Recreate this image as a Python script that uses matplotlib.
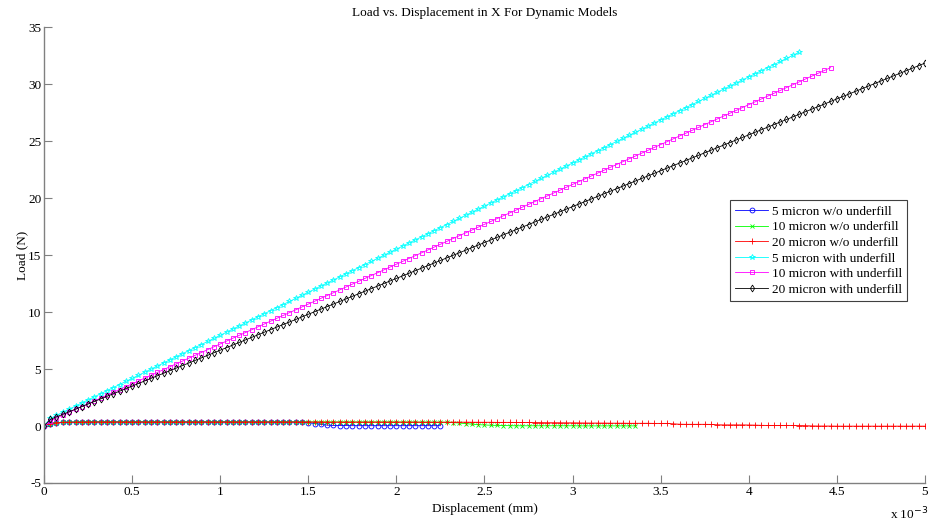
import matplotlib.pyplot as plt
import numpy as np

# displacement samples, in units of 1e-3 mm
disp = [0, .036, .071, .107, .143, .179, .214,
        .25, .286, .321, .357, .393, .429, .464,
        .5, .536, .571, .607, .643, .679, .714,
        .75, .786, .821, .857, .893, .929, .964,
        1, 1.036, 1.071, 1.107, 1.143, 1.179, 1.214,
        1.25, 1.286, 1.321, 1.357, 1.393, 1.429, 1.464,
        1.5, 1.536, 1.571, 1.607, 1.643, 1.679, 1.714,
        1.75, 1.786, 1.821, 1.857, 1.893, 1.929, 1.964,
        2, 2.036, 2.071, 2.107, 2.143, 2.179, 2.214,
        2.25, 2.286, 2.321, 2.357, 2.393, 2.429, 2.464,
        2.5, 2.536, 2.571, 2.607, 2.643, 2.679, 2.714,
        2.75, 2.786, 2.821, 2.857, 2.893, 2.929, 2.964,
        3, 3.036, 3.071, 3.107, 3.143, 3.179, 3.214,
        3.25, 3.286, 3.321, 3.357, 3.393, 3.429, 3.464,
        3.5, 3.536, 3.571, 3.607, 3.643, 3.679, 3.714,
        3.75, 3.786, 3.821, 3.857, 3.893, 3.929, 3.964,
        4, 4.036, 4.071, 4.107, 4.143, 4.179, 4.214,
        4.25, 4.286, 4.321, 4.357, 4.393, 4.429, 4.464,
        4.5, 4.536, 4.571, 4.607, 4.643, 4.679, 4.714,
        4.75, 4.786, 4.821, 4.857, 4.893, 4.929, 4.964,
        5]

load_5_wo = [0, 0.22, 0.30, 0.33, 0.34, 0.35, 0.35, 0.36, 0.36, 0.36,
             0.36, 0.36, 0.36, 0.36, 0.36, 0.36, 0.36, 0.36, 0.36, 0.36,
             0.36, 0.36, 0.36, 0.36, 0.36, 0.36, 0.36, 0.36, 0.36, 0.36,
             0.36, 0.36, 0.36, 0.36, 0.36, 0.35, 0.35, 0.35, 0.35, 0.35,
             0.35, 0.34, 0.30, 0.22, 0.14, 0.08, 0.05, 0.04, 0.04, 0.03,
             0.03, 0.03, 0.03, 0.03, 0.03, 0.03, 0.03, 0.03, 0.03, 0.03,
             0.03, 0.03, 0.03, 0.03]

load_10_wo = [0, 0.22, 0.30, 0.33, 0.34, 0.35, 0.35, 0.36, 0.36, 0.36,
              0.36, 0.36, 0.36, 0.36, 0.36, 0.36, 0.36, 0.36, 0.36, 0.36,
              0.36, 0.36, 0.36, 0.36, 0.36, 0.36, 0.36, 0.36, 0.36, 0.36,
              0.36, 0.36, 0.36, 0.36, 0.36, 0.36, 0.36, 0.36, 0.36, 0.36,
              0.36, 0.36, 0.35, 0.35, 0.35, 0.35, 0.35, 0.35, 0.35, 0.35,
              0.35, 0.35, 0.35, 0.35, 0.35, 0.35, 0.34, 0.34, 0.34, 0.34,
              0.34, 0.34, 0.33, 0.33, 0.32, 0.30, 0.26, 0.21, 0.16, 0.12,
              0.09, 0.07, 0.05, 0.04, 0.03, 0.02, 0.02, 0.02, 0.02, 0.02,
              0.02, 0.02, 0.02, 0.02, 0.02, 0.01, 0.01, 0.01, 0.01, 0.01,
              0.01, 0.01, 0.01, 0.01, 0.01]

load_20_wo = [0, 0.22, 0.30, 0.33, 0.34, 0.35, 0.35, 0.36, 0.36, 0.36,
              0.36, 0.36, 0.36, 0.36, 0.36, 0.36, 0.36, 0.36, 0.36, 0.36,
              0.36, 0.36, 0.36, 0.36, 0.36, 0.36, 0.36, 0.36, 0.36, 0.36,
              0.36, 0.36, 0.36, 0.36, 0.36, 0.36, 0.36, 0.36, 0.36, 0.36,
              0.36, 0.36, 0.36, 0.36, 0.36, 0.35, 0.35, 0.35, 0.35, 0.35,
              0.35, 0.35, 0.35, 0.35, 0.35, 0.35, 0.35, 0.35, 0.35, 0.35,
              0.34, 0.34, 0.34, 0.34, 0.34, 0.34, 0.34, 0.34, 0.33, 0.33,
              0.33, 0.33, 0.32, 0.32, 0.32, 0.31, 0.31, 0.31, 0.30, 0.30,
              0.29, 0.29, 0.28, 0.28, 0.28, 0.27, 0.27, 0.26, 0.26, 0.26,
              0.25, 0.25, 0.25, 0.24, 0.24, 0.24, 0.24, 0.23, 0.23, 0.23,
              0.20, 0.16, 0.15, 0.15, 0.15, 0.15, 0.14, 0.11, 0.10, 0.10,
              0.10, 0.10, 0.09, 0.08, 0.06, 0.05, 0.05, 0.05, 0.05, 0.05,
              0.04, 0.03, 0.01, 0.00, 0.00, 0.00, -0.01, -0.01, -0.01, -0.01,
              -0.01, -0.01, -0.01, -0.01, -0.01, -0.01, -0.01, -0.01, -0.01, -0.01,
              -0.01]

load_5_with = [0, 0.67, 0.94, 1.21, 1.48, 1.75, 2.02, 2.29, 2.56, 2.83,
               3.10, 3.37, 3.64, 3.91, 4.18, 4.45, 4.72, 4.99, 5.26, 5.53,
               5.80, 6.07, 6.34, 6.61, 6.88, 7.15, 7.42, 7.69, 7.96, 8.23,
               8.50, 8.77, 9.04, 9.31, 9.58, 9.85, 10.12, 10.39, 10.66, 10.93,
               11.20, 11.47, 11.74, 12.01, 12.28, 12.55, 12.82, 13.09, 13.36, 13.63,
               13.90, 14.17, 14.44, 14.71, 14.98, 15.25, 15.52, 15.79, 16.06, 16.33,
               16.60, 16.87, 17.14, 17.41, 17.68, 17.95, 18.22, 18.49, 18.76, 19.03,
               19.30, 19.57, 19.84, 20.11, 20.38, 20.65, 20.92, 21.19, 21.46, 21.73,
               22.00, 22.27, 22.54, 22.81, 23.08, 23.35, 23.62, 23.89, 24.16, 24.43,
               24.70, 24.97, 25.24, 25.51, 25.78, 26.05, 26.32, 26.59, 26.86, 27.13,
               27.40, 27.67, 27.94, 28.21, 28.48, 28.75, 29.02, 29.29, 29.56, 29.83,
               30.10, 30.37, 30.64, 30.91, 31.18, 31.45, 31.72, 31.99, 32.26, 32.53,
               32.80]

load_10_with = [0, 0.45, 0.70, 0.95, 1.20, 1.45, 1.70, 1.95, 2.20, 2.45,
                2.70, 2.95, 3.20, 3.45, 3.70, 3.95, 4.20, 4.45, 4.70, 4.95,
                5.20, 5.45, 5.70, 5.95, 6.20, 6.45, 6.70, 6.95, 7.20, 7.45,
                7.70, 7.95, 8.20, 8.45, 8.70, 8.95, 9.20, 9.45, 9.70, 9.95,
                10.20, 10.45, 10.70, 10.95, 11.20, 11.45, 11.70, 11.95, 12.20, 12.45,
                12.70, 12.95, 13.20, 13.45, 13.70, 13.95, 14.20, 14.45, 14.70, 14.95,
                15.20, 15.45, 15.70, 15.95, 16.20, 16.45, 16.70, 16.95, 17.20, 17.45,
                17.70, 17.95, 18.20, 18.45, 18.70, 18.95, 19.20, 19.45, 19.70, 19.95,
                20.20, 20.45, 20.70, 20.95, 21.20, 21.45, 21.70, 21.95, 22.20, 22.45,
                22.70, 22.95, 23.20, 23.45, 23.70, 23.95, 24.20, 24.45, 24.70, 24.95,
                25.20, 25.45, 25.70, 25.95, 26.20, 26.45, 26.70, 26.95, 27.20, 27.45,
                27.70, 27.95, 28.20, 28.45, 28.70, 28.95, 29.20, 29.45, 29.70, 29.95,
                30.20, 30.45, 30.70, 30.95, 31.20, 31.45]

load_20_with = [0, 0.58, 0.80, 1.03, 1.25, 1.48, 1.70, 1.93, 2.15, 2.38,
                2.60, 2.83, 3.05, 3.28, 3.50, 3.73, 3.95, 4.18, 4.40, 4.63,
                4.85, 5.08, 5.30, 5.53, 5.75, 5.98, 6.20, 6.43, 6.65, 6.88,
                7.10, 7.33, 7.55, 7.78, 8.00, 8.23, 8.45, 8.68, 8.90, 9.13,
                9.35, 9.58, 9.80, 10.03, 10.25, 10.48, 10.70, 10.93, 11.15, 11.38,
                11.60, 11.83, 12.05, 12.28, 12.50, 12.73, 12.95, 13.18, 13.40, 13.63,
                13.85, 14.08, 14.30, 14.53, 14.75, 14.98, 15.20, 15.43, 15.65, 15.88,
                16.10, 16.33, 16.55, 16.78, 17.00, 17.23, 17.45, 17.68, 17.90, 18.13,
                18.35, 18.58, 18.80, 19.03, 19.25, 19.48, 19.70, 19.93, 20.15, 20.38,
                20.60, 20.83, 21.05, 21.28, 21.50, 21.73, 21.95, 22.18, 22.40, 22.63,
                22.85, 23.08, 23.30, 23.53, 23.75, 23.98, 24.20, 24.43, 24.65, 24.88,
                25.10, 25.33, 25.55, 25.78, 26.00, 26.23, 26.45, 26.68, 26.90, 27.13,
                27.35, 27.58, 27.80, 28.03, 28.25, 28.48, 28.70, 28.93, 29.15, 29.38,
                29.60, 29.83, 30.05, 30.28, 30.50, 30.73, 30.95, 31.18, 31.40, 31.63,
                31.85]

labels = ['5 micron w/o underfill', '10 micron w/o underfill', '20 micron w/o underfill',
          '5 micron with underfill', '10 micron with underfill', '20 micron with underfill']
series = [load_5_wo, load_10_wo, load_20_wo, load_5_with, load_10_with, load_20_with]
colors = ['#0000ff', '#00ff00', '#ff0000', '#00ffff', '#ff00ff', '#000000']
markers = ['o', 'x', '+', '*', 's', 'd']
msizes = [3.5, 3.5, 4.5, 4, 3.5, 3.5]

plt.rcParams['font.family'] = ['Liberation Serif', 'DejaVu Serif']
plt.rcParams['font.size'] = 9.5
plt.rcParams['axes.unicode_minus'] = False

fig = plt.figure(figsize=(9.3, 5.23), dpi=100)
ax = fig.add_axes([0.0473, 0.0765, 0.9473, 0.8715])

for y, c, m, ms, lab in zip(series, colors, markers, msizes, labels):
  x = np.array(disp[:len(y)])
  ax.plot(x, y, color=c, marker=m, markersize=ms, markerfacecolor='none',
          markeredgewidth=0.6, linewidth=0.6, label=lab)

ax.set_xlim(0, 5)
ax.set_ylim(-5, 35)
ax.set_xticks(np.arange(0, 5.01, 0.5))
ax.set_xticklabels(['0', '0.5', '1', '1.5', '2', '2.5', '3', '3.5', '4', '4.5', '5'])
ax.set_yticks(np.arange(-5, 36, 5))
for s in ['top', 'right']:
  ax.spines[s].set_visible(False)
for s in ['left', 'bottom']:
  ax.spines[s].set_color('#808080')
  ax.spines[s].set_linewidth(1.0)
ax.tick_params(direction='in', length=6, color='#808080', pad=2)

ax.set_title('Load vs. Displacement in X For Dynamic Models', fontsize=9.5, pad=8)
ax.set_xlabel('Displacement (mm)', labelpad=4)
ax.set_ylabel('Load (N)', labelpad=0)
ax.text(0.96, -0.068, 'x 10$^{-3}$', transform=ax.transAxes, ha='left', va='center')

leg = ax.legend(loc='upper right', bbox_to_anchor=(0.98, 0.62), fancybox=False,
                framealpha=1, edgecolor='#404040', borderpad=0.4, labelspacing=0.25,
                handlelength=2.5, handletextpad=0.3, borderaxespad=0)
leg.get_frame().set_linewidth(0.8)

fig.savefig('out.png', dpi=100)
